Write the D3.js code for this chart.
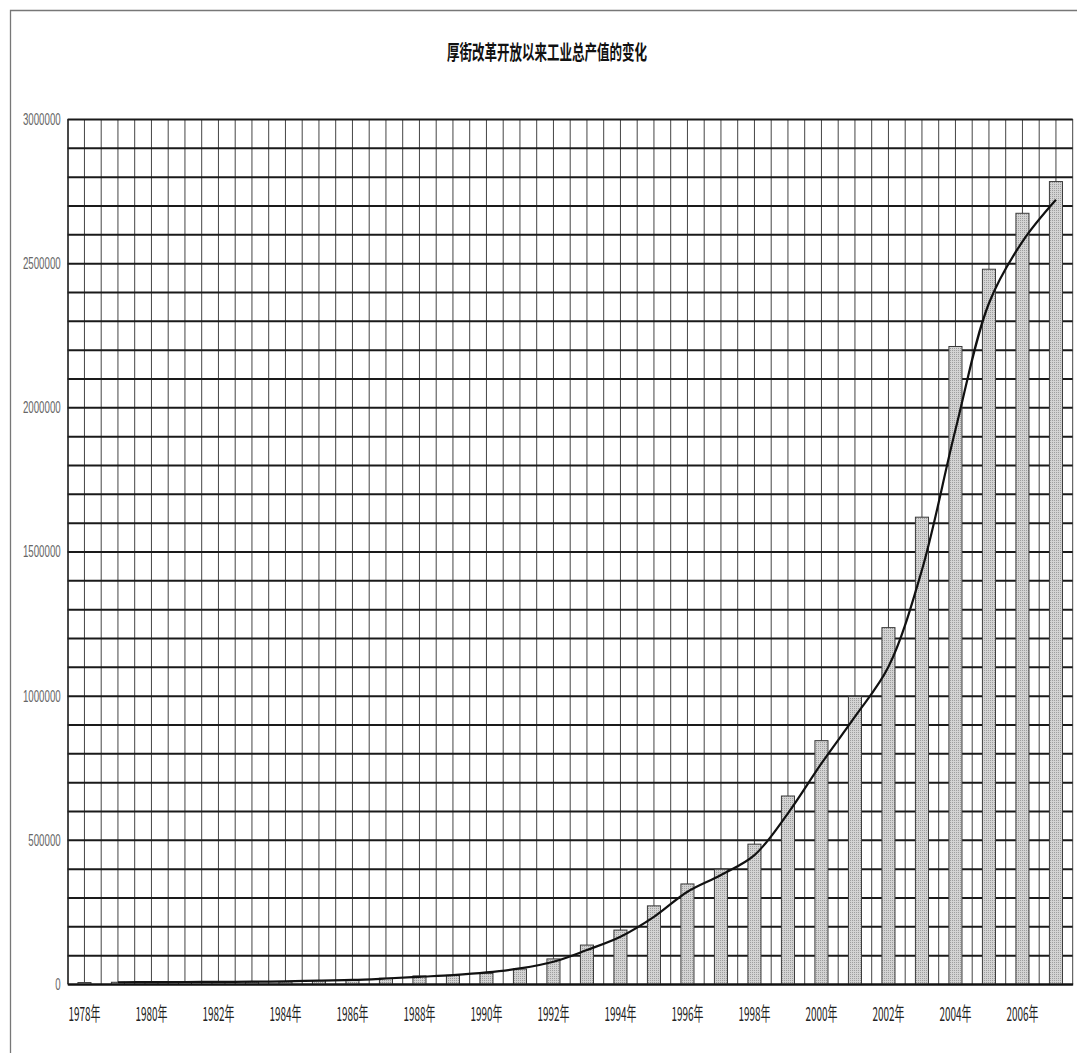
<!DOCTYPE html>
<html>
<head>
<meta charset="utf-8">
<script src="https://cdn.jsdelivr.net/npm/d3@7/dist/d3.min.js"></script>
<style>
  body { margin: 0; background: #fff; }
  svg { display: block; }
</style>
</head>
<body>
<div id="chart"></div>
<script>
// categories
var years = [1978, 1979, 1980, 1981, 1982, 1983, 1984, 1985, 1986, 1987,
  1988, 1989, 1990, 1991, 1992, 1993, 1994, 1995, 1996, 1997,
  1998, 1999, 2000, 2001, 2002, 2003, 2004, 2005, 2006, 2007];

// 工业总产值 (bars)
var outputValues = [5000, 6000, 6500, 6800, 7000, 7500, 8000, 12000, 13000, 20000,
  28000, 30000, 37000, 52000, 87000, 135000, 187000, 271000, 347000, 398000,
  485000, 652000, 844000, 997000, 1236000, 1619000, 2211000, 2479000, 2673000, 2783000];

// smoothed curve (starts at 1979)
var curveValues = [null, 6000, 6500, 7000, 7500, 8000, 9000, 12000, 14000, 19000,
  25000, 31000, 40000, 54000, 77000, 118000, 164000, 233000, 320000, 378000,
  447000, 592000, 765000, 927000, 1100000, 1436000, 1922000, 2361000, 2575000, 2720000];

var yTickValues = [0, 500000, 1000000, 1500000, 2000000, 2500000, 3000000];
var xTickYears = [1978, 1980, 1982, 1984, 1986, 1988, 1990, 1992, 1994, 1996, 1998, 2000, 2002, 2004, 2006];
var title = "厚街改革开放以来工业总产值的变化";

var W = 1077, H = 1053;
var plot = {left: 67.7, right: 1072.7, top: 119, bottom: 984};

var svg = d3.select("#chart").append("svg")
  .attr("width", W)
  .attr("height", H);

// halftone-like fill for the bars
var pat = svg.append("defs").append("pattern")
  .attr("id", "stipple")
  .attr("width", 2).attr("height", 2)
  .attr("patternUnits", "userSpaceOnUse");
pat.append("rect").attr("width", 2).attr("height", 2).attr("fill", "#d3d3d3");
pat.append("rect").attr("width", 1).attr("height", 1).attr("fill", "#9e9e9e");

// outer chart border (top + left)
svg.append("path")
  .attr("d", "M10.5," + H + "V10.5H" + W)
  .attr("fill", "none")
  .attr("stroke", "#777")
  .attr("stroke-width", 1.3);

svg.append("text")
  .attr("x", 547)
  .attr("y", 60)
  .attr("text-anchor", "middle")
  .attr("font-family", "'Noto Sans CJK SC', sans-serif")
  .attr("font-size", 20)
  .attr("font-weight", "bold")
  .attr("fill", "#111")
  .attr("textLength", 200)
  .attr("lengthAdjust", "spacingAndGlyphs")
  .text(title);

var x = d3.scaleBand()
  .domain(years)
  .range([plot.left, plot.right])
  .paddingInner(0.61)
  .paddingOuter(0.305);

var y = d3.scaleLinear()
  .domain([0, 3000000])
  .range([plot.bottom, plot.top]);

var g = svg.append("g");

// vertical grid: category boundaries and centres
var half = x.step() / 2;
var vLines = d3.range(0, years.length * 2 + 1).map(function(i) { return plot.left + i * half; });
g.selectAll("line.vgrid")
  .data(vLines)
  .enter().append("line")
  .attr("class", "vgrid")
  .attr("x1", function(d) { return d; })
  .attr("x2", function(d) { return d; })
  .attr("y1", plot.top)
  .attr("y2", plot.bottom)
  .attr("stroke", "#444")
  .attr("stroke-width", 1);

// horizontal grid every 100000
g.append("g")
  .attr("transform", "translate(" + plot.left + ",0)")
  .call(d3.axisLeft(y)
    .tickValues(d3.range(0, 3000001, 100000))
    .tickSize(-(plot.right - plot.left))
    .tickFormat(""))
  .call(function(a) {
    a.select(".domain").remove();
    a.selectAll("line").attr("stroke", "#1a1a1a").attr("stroke-width", 2);
  });

// bars
g.selectAll("rect.bar")
  .data(outputValues)
  .enter().append("rect")
  .attr("class", "bar")
  .attr("x", function(d, i) { return x(years[i]); })
  .attr("y", function(d) { return y(d); })
  .attr("width", x.bandwidth())
  .attr("height", function(d) { return plot.bottom - y(d); })
  .attr("fill", "url(#stipple)")
  .attr("stroke", "#3a3a3a")
  .attr("stroke-width", 1);

// smoothed line
var line = d3.line()
  .defined(function(d) { return d != null; })
  .x(function(d, i) { return x(years[i]) + x.bandwidth() / 2; })
  .y(function(d) { return y(d); })
  .curve(d3.curveCatmullRom.alpha(0.5));

g.append("path")
  .datum(curveValues)
  .attr("d", line)
  .attr("fill", "none")
  .attr("stroke", "#111")
  .attr("stroke-width", 2.2);

// y axis labels
g.append("g")
  .attr("transform", "translate(" + plot.left + ",0)")
  .call(d3.axisLeft(y).tickValues(yTickValues).tickSize(0).tickPadding(7).tickFormat(d3.format("d")))
  .call(function(a) {
    a.select(".domain").attr("stroke", "#222").attr("stroke-width", 1.2);
    a.selectAll("text")
      .attr("font-family", "'Liberation Sans', sans-serif")
      .attr("font-size", 17)
      .attr("fill", "#666")
      .attr("textLength", function(d) { return String(d).length * 5.4; })
      .attr("lengthAdjust", "spacingAndGlyphs");
  });

// x axis
g.append("g")
  .attr("transform", "translate(0," + plot.bottom + ")")
  .call(d3.axisBottom(x).tickValues(xTickYears).tickSize(0).tickFormat(function(d) { return d + "年"; }))
  .call(function(a) {
    a.select(".domain").attr("stroke", "#111").attr("stroke-width", 2.2);
    a.selectAll("text")
      .attr("y", 37)
      .attr("dy", 0)
      .attr("font-family", "'Noto Sans CJK SC', sans-serif")
      .attr("font-size", 19)
      .attr("fill", "#222")
      .attr("textLength", 32)
      .attr("lengthAdjust", "spacingAndGlyphs");
  });
</script>
</body>
</html>
